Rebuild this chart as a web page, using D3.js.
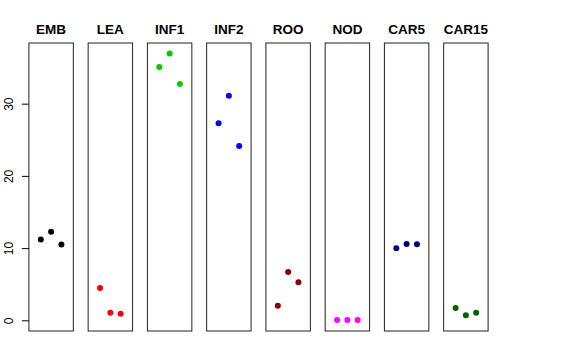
<!DOCTYPE html>
<html>
<head>
<meta charset="utf-8">
<script src="https://cdn.jsdelivr.net/npm/d3@7"></script>
<style>
  body { margin: 0; background: #fff; }
  text { font-family: "Liberation Sans", Arial, sans-serif; }
</style>
</head>
<body>
<div id="chart"></div>
<script>
// tissue groups, one panel each
var tissues = ["EMB", "LEA", "INF1", "INF2", "ROO", "NOD", "CAR5", "CAR15"];
var colors = ["#000000", "#ff0000", "#00cd00", "#0000ff", "#8b0000", "#ff00ff", "#00008b", "#006400"];

// three replicates per tissue
var rep1 = [11.2, 4.47, 35.08, 27.28, 2.02, 0.03, 9.97, 1.70];
var rep2 = [12.27, 1.05, 36.93, 31.11, 6.69, 0.05, 10.57, 0.69];
var rep3 = [10.5, 0.91, 32.73, 24.14, 5.26, 0.04, 10.53, 1.05];

var yTicks = [0, 10, 20, 30];

var svgWidth = 576, svgHeight = 360;

var svg = d3.select("#chart")
  .append("svg")
  .attr("width", svgWidth)
  .attr("height", svgHeight);

// panel positions
var xPanel = d3.scaleBand()
  .domain(tissues)
  .range([28.9, 488.1])
  .paddingInner(0.25)
  .paddingOuter(0);

// x inside one panel (R-style 4% expansion of 0..4)
var xIn = d3.scaleLinear()
  .domain([-0.16, 4.16])
  .range([0, xPanel.bandwidth()]);

var yScale = d3.scaleLinear()
  .domain([-1.48, 38.4])
  .range([331, 43]);

// build point list
var points = [];
tissues.forEach(function(t, i) {
  [rep1[i], rep2[i], rep3[i]].forEach(function(v, j) {
    points.push({ tissue: t, rep: j + 1, value: v, color: colors[i] });
  });
});

var panels = svg.selectAll("g.panel")
  .data(tissues)
  .enter()
  .append("g")
  .attr("class", "panel")
  .attr("transform", d => `translate(${xPanel(d)}, 0)`);

panels.append("rect")
  .attr("x", 0)
  .attr("y", yScale.range()[1])
  .attr("width", xPanel.bandwidth())
  .attr("height", yScale.range()[0] - yScale.range()[1])
  .attr("fill", "none")
  .attr("stroke", "#222")
  .attr("stroke-width", 1);

panels.append("text")
  .attr("x", xPanel.bandwidth() / 2)
  .attr("y", 33.5)
  .attr("text-anchor", "middle")
  .attr("font-size", "13.5px")
  .attr("font-weight", "bold")
  .text(d => d);

panels.selectAll("circle")
  .data(t => points.filter(p => p.tissue === t))
  .enter()
  .append("circle")
  .attr("cx", d => xIn(d.rep))
  .attr("cy", d => yScale(d.value))
  .attr("r", 3)
  .attr("fill", d => d.color);

// y axis on the first panel
var leftAxis = d3.axisLeft(yScale)
  .tickValues(yTicks)
  .tickSize(7)
  .tickFormat(d3.format("d"));

var axisG = svg.append("g")
  .attr("transform", `translate(${xPanel(tissues[0])}, 0)`)
  .call(leftAxis);

axisG.select(".domain").remove();
axisG.selectAll(".tick line").attr("stroke", "#000");
axisG.selectAll(".tick text")
  .attr("transform", "rotate(-90)")
  .attr("x", 0)
  .attr("y", -16.4)
  .attr("dy", 0)
  .attr("text-anchor", "middle")
  .attr("font-size", "12px")
  .attr("font-family", "Liberation Sans, Arial, sans-serif")
  .attr("fill", "#000");
</script>
</body>
</html>
